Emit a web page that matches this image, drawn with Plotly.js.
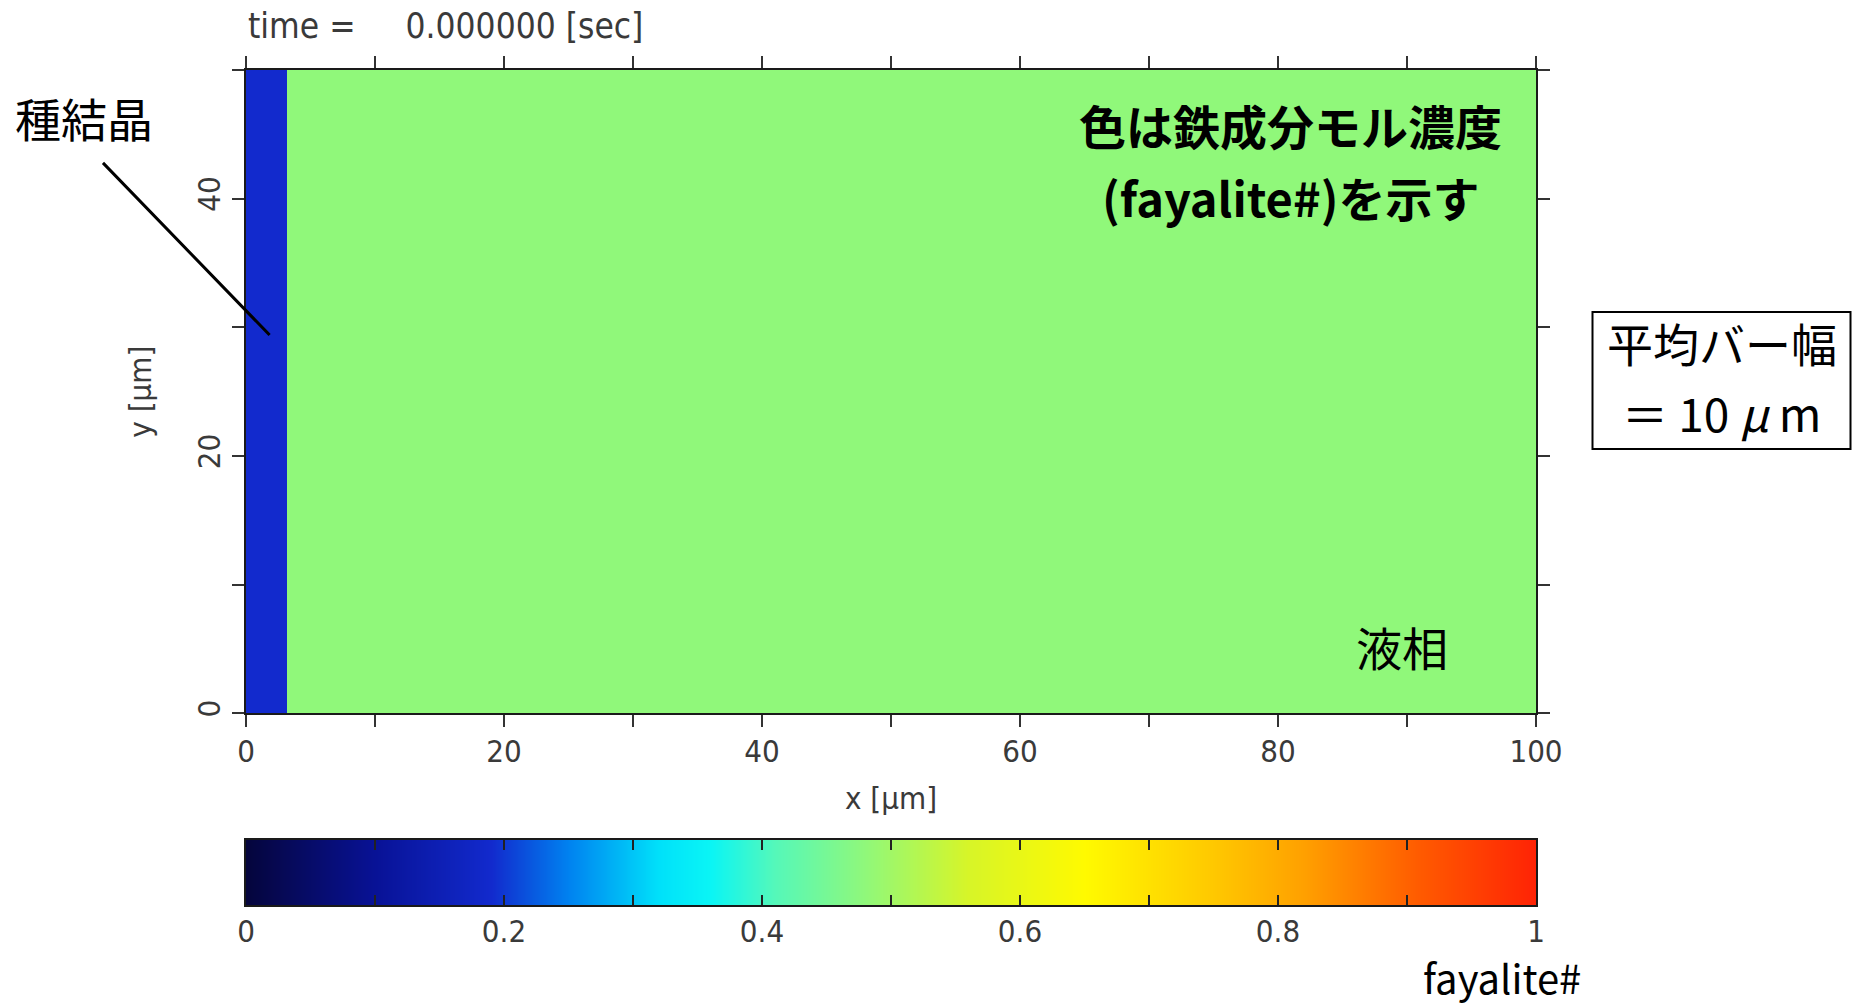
<!DOCTYPE html>
<html>
<head>
<meta charset="utf-8">
<script src="https://cdn.plot.ly/plotly-3.0.1.min.js"></script>
<style>html,body{margin:0;padding:0;background:#fff;}#chart{width:1852px;height:1007px;}</style>
</head>
<body>
<div id="chart"></div>
<script>
// ---- data ----
const cellEdgesX = [0, 3.2, 100];      // µm : seed crystal strip, then liquid
const cellEdgesY = [0, 50];            // µm
const fayaliteFraction = [[0.19, 0.48]]; // seed crystal, liquid phase
const xTickVals = [0, 20, 40, 60, 80, 100];
const yTickVals = [0, 20, 40];
const cbarEnds = [0, 1];
const cbarTickVals = [0, 0.2, 0.4, 0.6, 0.8, 1];
const cbarTickText = ['0', '0.2', '0.4', '0.6', '0.8', '1'];
const timeLabel = 'time =     0.000000 [sec]';

const jetLike = [
  [0.00, 'rgb(5,5,60)'],
  [0.10, 'rgb(8,18,150)'],
  [0.19, 'rgb(18,42,205)'],
  [0.25, 'rgb(0,130,240)'],
  [0.32, 'rgb(0,225,250)'],
  [0.36, 'rgb(10,245,245)'],
  [0.41, 'rgb(85,248,185)'],
  [0.48, 'rgb(144,248,122)'],
  [0.56, 'rgb(215,245,40)'],
  [0.65, 'rgb(255,250,0)'],
  [0.75, 'rgb(255,200,0)'],
  [0.82, 'rgb(255,160,0)'],
  [0.91, 'rgb(255,90,0)'],
  [1.00, 'rgb(255,35,5)']
];

const tickFont = {family: '"Liberation Sans Narrow", "DejaVu Sans Condensed", sans-serif', size: 31, color: '#3a3a3a'};
const timeFont = {family: '"Liberation Sans Narrow", "DejaVu Sans Condensed", sans-serif', size: 35, color: '#3a3a3a'};
const jp = '"Noto Sans CJK JP", "Noto Sans", sans-serif';

const traces = [
  {
    type: 'heatmap', x: cellEdgesX, y: cellEdgesY, z: fayaliteFraction,
    colorscale: jetLike, zmin: 0, zmax: 1, showscale: false, xaxis: 'x', yaxis: 'y',
    hoverinfo: 'skip'
  },
  {
    type: 'heatmap', x: cbarEnds, y: cbarEnds, z: [cbarEnds, cbarEnds],
    colorscale: jetLike, zmin: 0, zmax: 1, zsmooth: 'best', showscale: false,
    xaxis: 'x2', yaxis: 'y2', hoverinfo: 'skip'
  }
];

const axisCommon = {
  showgrid: false, zeroline: false, showline: true, linecolor: '#1a1a1a', linewidth: 2,
  mirror: 'ticks', ticks: 'outside', ticklen: 12, tickwidth: 2, tickcolor: '#333',
  tickfont: tickFont
};

const layout = {
  width: 1852, height: 1007,
  margin: {l: 246, r: 316, t: 70, b: 60},
  paper_bgcolor: '#ffffff', plot_bgcolor: '#ffffff',
  showlegend: false,
  xaxis: Object.assign({}, axisCommon, {
    domain: [0, 1], range: [0, 100], anchor: 'y',
    tickmode: 'array', tickvals: xTickVals, ticklabelstandoff: -3,
    minor: {dtick: 10, ticks: 'outside', ticklen: 12, tickwidth: 2, tickcolor: '#333'},
    title: {text: 'x [µm]', font: tickFont, standoff: 20}
  }),
  yaxis: Object.assign({}, axisCommon, {
    domain: [0.2664, 1], range: [0, 50], anchor: 'x',
    tickmode: 'array', tickvals: yTickVals, tickangle: -90,
    minor: {dtick: 10, ticks: 'outside', ticklen: 12, tickwidth: 2, tickcolor: '#333'},
    title: {text: 'y [µm]', font: tickFont, standoff: 30}
  }),
  xaxis2: {
    domain: [0, 1], range: [0, 1], anchor: 'y2',
    showgrid: false, zeroline: false, showline: true, linecolor: '#1a1a1a', linewidth: 2,
    mirror: 'ticks', ticks: 'inside', ticklen: 10, tickwidth: 2, tickcolor: '#222',
    tickmode: 'array', tickvals: cbarTickVals, ticktext: cbarTickText, tickfont: tickFont,
    ticklabelstandoff: -2,
    minor: {dtick: 0.1, ticks: 'inside', ticklen: 10, tickwidth: 2, tickcolor: '#222'}
  },
  yaxis2: {
    domain: [0.0479, 0.122], range: [0, 1], anchor: 'x2',
    showgrid: false, zeroline: false, showline: true, linecolor: '#1a1a1a', linewidth: 2,
    mirror: true, ticks: '', showticklabels: false
  },
  shapes: [
    {type: 'rect', xref: 'paper', yref: 'paper', x0: 1.0438, x1: 1.2438, y0: 0.5678, y1: 0.7241,
     line: {color: '#000', width: 2}, fillcolor: 'rgba(0,0,0,0)'}
  ],
  annotations: [
    {xref: 'paper', yref: 'paper', x: 0, y: 1.0502, xanchor: 'left', yanchor: 'middle',
     text: timeLabel, showarrow: false, font: timeFont},
    {xref: 'paper', yref: 'paper', x: -0.1254, y: 0.9464, xanchor: 'center', yanchor: 'middle',
     text: '種結晶', showarrow: false, font: {family: jp, size: 46, color: '#000'}},
    {xref: 'x', yref: 'y', x: 1.83, y: 29.4, axref: 'x', ayref: 'y', ax: -11.2, ay: 42.9,
     text: '', showarrow: true, arrowhead: 0, arrowwidth: 3, arrowcolor: '#000', standoff: 0, startstandoff: 0},
    {xref: 'paper', yref: 'paper', x: 0.8097, y: 0.9373, xanchor: 'center', yanchor: 'middle',
     text: '<b>色は鉄成分モル濃度</b>', showarrow: false, font: {family: jp, size: 47, color: '#000'}},
    {xref: 'paper', yref: 'paper', x: 0.8097, y: 0.8563, xanchor: 'center', yanchor: 'middle',
     text: '<b>(fayalite#)を示す</b>', showarrow: false, font: {family: jp, size: 47, color: '#000'}},
    {xref: 'paper', yref: 'paper', x: 0.8958, y: 0.3427, xanchor: 'center', yanchor: 'middle',
     text: '液相', showarrow: false, font: {family: jp, size: 46, color: '#000'}},
    {xref: 'paper', yref: 'paper', x: 1.1438, y: 0.6904, xanchor: 'center', yanchor: 'middle',
     text: '平均バー幅', showarrow: false, font: {family: jp, size: 46, color: '#000'}},
    {xref: 'paper', yref: 'paper', x: 1.1438, y: 0.6105, xanchor: 'center', yanchor: 'middle',
     text: '＝ 10 <i>μ</i> m', showarrow: false, font: {family: jp, size: 46, color: '#000'}},
    {xref: 'paper', yref: 'paper', x: 0.974, y: -0.0345, xanchor: 'center', yanchor: 'middle',
     text: 'fayalite#', showarrow: false, font: {family: jp, size: 40, color: '#000'}}
  ]
};

Plotly.newPlot('chart', traces, layout, {staticPlot: true, displayModeBar: false});
</script>
</body>
</html>
